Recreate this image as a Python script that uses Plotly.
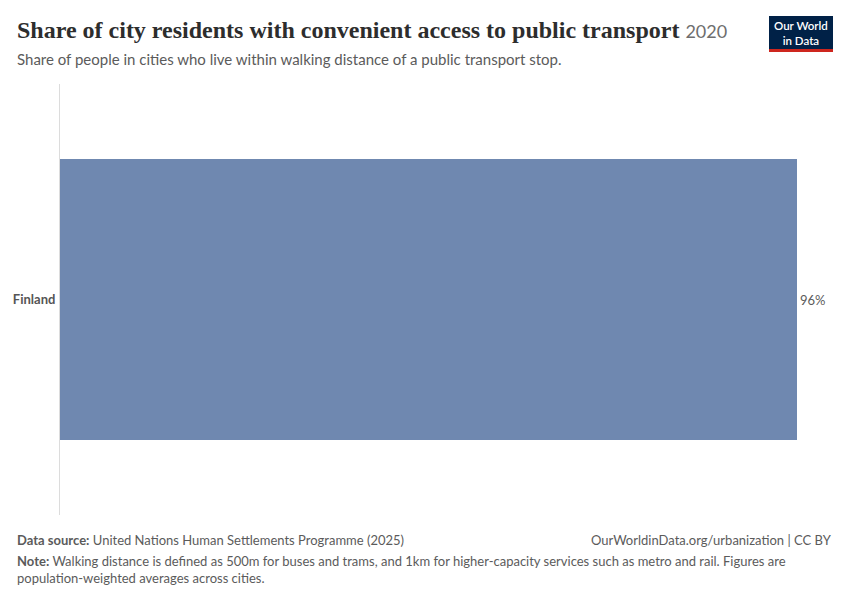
import plotly.graph_objects as go

countries = ["Finland"]
values = [96]
value_labels = ["96%"]

W, H = 850, 600
def px_x(x): return x / W
def px_y(y): return 1 - y / H

fig = go.Figure()
fig.add_trace(go.Bar(
    x=values, y=countries, orientation="h",
    marker=dict(color="#6f88b0", line=dict(width=0)),
    width=0.652,
    text=value_labels, textposition="outside",
    textfont=dict(family="Lato", size=13, color="#5b5b5b"),
    cliponaxis=False, hoverinfo="skip",
))

fig.update_layout(
    width=W, height=H,
    margin=dict(l=0, r=0, t=0, b=0),
    paper_bgcolor="white", plot_bgcolor="white",
    showlegend=False,
    xaxis=dict(domain=[px_x(60), px_x(797)], range=[0, 96], visible=False, fixedrange=True),
    yaxis=dict(domain=[px_y(515), px_y(84)], range=[-0.5, 0.5],
               showline=True, linecolor="#dcdcdc", linewidth=1,
               showgrid=False, zeroline=False, ticks="", ticklabelstandoff=1,
               tickfont=dict(family="Lato", size=13, color="#555555", weight="bold"),
               fixedrange=True),
)

ann = []
ann.append(dict(x=px_x(15), y=px_y(30), xref="paper", yref="paper", xanchor="left", yanchor="middle",
                text="<b>Share of city residents with convenient access to public transport</b> <span style='font-family:Lato;font-size:18px;color:#6e6e6e'>2020</span>",
                showarrow=False, font=dict(family="Liberation Serif", size=24, color="#2d2d2d")))
ann.append(dict(x=px_x(15), y=px_y(59), xref="paper", yref="paper", xanchor="left", yanchor="middle",
                text="Share of people in cities who live within walking distance of a public transport stop.",
                showarrow=False, font=dict(family="Lato", size=15, color="#5b5b5b")))
ann.append(dict(x=px_x(15), y=px_y(540), xref="paper", yref="paper", xanchor="left", yanchor="middle",
                text="<b>Data source:</b> United Nations Human Settlements Programme (2025)",
                showarrow=False, font=dict(family="Lato", size=13, color="#5b5b5b")))
ann.append(dict(x=px_x(834), y=px_y(540), xref="paper", yref="paper", xanchor="right", yanchor="middle",
                text="OurWorldinData.org/urbanization | CC BY",
                showarrow=False, font=dict(family="Lato", size=13, color="#5b5b5b")))
ann.append(dict(x=px_x(15), y=px_y(569), xref="paper", yref="paper", xanchor="left", yanchor="middle", align="left",
                text="<b>Note:</b> Walking distance is defined as 500m for buses and trams, and 1km for higher-capacity services such as metro and rail. Figures are<br>population-weighted averages across cities.",
                showarrow=False, font=dict(family="Lato", size=13, color="#5b5b5b")))
ann.append(dict(x=px_x(801), y=px_y(33), xref="paper", yref="paper", xanchor="center", yanchor="middle",
                text="Our World<br>in Data", showarrow=False,
                font=dict(family="Lato", size=11.5, color="white", weight=600)))
fig.update_layout(annotations=ann)

fig.add_shape(type="rect", xref="paper", yref="paper",
              x0=px_x(769), x1=px_x(833), y0=px_y(52), y1=px_y(16),
              fillcolor="#002147", line=dict(width=0), layer="below")
fig.add_shape(type="rect", xref="paper", yref="paper",
              x0=px_x(769), x1=px_x(833), y0=px_y(52), y1=px_y(49),
              fillcolor="#ce261e", line=dict(width=0))

fig.write_html("out.html", config={"displayModeBar": False},
               post_script="document.body.style.margin='0';document.body.style.overflow='hidden';")
